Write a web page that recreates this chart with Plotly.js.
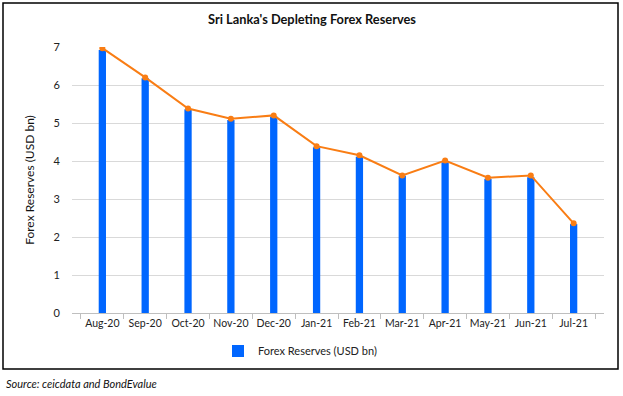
<!DOCTYPE html>
<html>
<head>
<meta charset="utf-8">
<script src="https://cdn.plot.ly/plotly-3.0.1.min.js"></script>
<style>html,body{margin:0;padding:0;background:#fff;}#chart{width:623px;height:396px;}</style>
</head>
<body>
<div id="chart"></div>
<script>
const months = ["Aug-20","Sep-20","Oct-20","Nov-20","Dec-20","Jan-21","Feb-21","Mar-21","Apr-21","May-21","Jun-21","Jul-21"];
const reserves = [6.92, 6.18, 5.36, 5.08, 5.17, 4.36, 4.11, 3.61, 3.97, 3.53, 3.57, 2.34];
const trendLine = [6.97, 6.20, 5.38, 5.11, 5.20, 4.39, 4.15, 3.62, 4.01, 3.56, 3.62, 2.36];
const yTicks = [0,1,2,3,4,5,6,7];

const font = "Lato, 'Open Sans', sans-serif";
const PW = 532, PH = 266, L = 72, T = 47;
const px = v => (v - L) / PW;
const py = v => (T + PH - v) / PH;

const traces = [
  {
    type: "bar", x: months, y: reserves, name: "Forex Reserves (USD bn)",
    marker: {color: "#0066FF"}, width: 0.17, hoverinfo: "x+y"
  },
  {
    type: "scatter", mode: "lines+markers", x: months, y: trendLine, showlegend: false,
    line: {color: "#F97D14", width: 2}, marker: {color: "#F97D14", size: 6}
  }
];

const layout = {
  width: 623, height: 396,
  margin: {l: L, r: 623 - L - PW, t: T, b: 396 - T - PH},
  paper_bgcolor: "#fff", plot_bgcolor: "#fff",
  font: {family: font, size: 11, color: "#222"},
  title: {text: "<b>Sri Lanka's Depleting Forex Reserves</b>", font: {family: font, size: 12.8, color: "#111"},
          x: 312/623, xref: "container", xanchor: "center", y: 1 - 20/396, yanchor: "middle"},
  xaxis: {
    type: "category", showgrid: false, showline: true, linecolor: "#bfbfbf", linewidth: 1, automargin: false,
    ticks: "outside", tickson: "boundaries", ticklen: 5, tickcolor: "#bfbfbf", tickangle: 0,
    tickfont: {family: font, size: 10.5, color: "#222"}, fixedrange: true
  },
  yaxis: {
    range: [0, 7], tickvals: yTicks, showgrid: true, gridcolor: "#d9d9d9", gridwidth: 1, automargin: false,
    zeroline: false, showline: false, ticks: "outside", ticklen: 9, tickcolor: "rgba(0,0,0,0)",
    tickfont: {family: font, size: 11, color: "#222"},
    title: {text: "Forex Reserves (USD bn)", font: {family: font, size: 12, color: "#111"}, standoff: 16},
    fixedrange: true
  },
  showlegend: true,
  legend: {orientation: "h", x: px(300), xanchor: "center", y: py(351), yanchor: "middle",
           font: {family: font, size: 11, color: "#222"}, itemwidth: 30, traceorder: "normal"},
  shapes: [
    {type: "rect", xref: "paper", yref: "paper",
     x0: px(3), x1: px(618), y0: py(369), y1: py(3),
     line: {color: "#000", width: 1.5}, fillcolor: "rgba(0,0,0,0)", layer: "above"}
  ],
  annotations: [
    {text: "<i>Source: ceicdata and BondEvalue</i>", xref: "paper", yref: "paper",
     x: px(4), xanchor: "left", y: py(383), yanchor: "middle", showarrow: false,
     font: {family: font, size: 11, color: "#111"}}
  ]
};

Plotly.newPlot("chart", traces, layout, {displayModeBar: false, staticPlot: true});
</script>
</body>
</html>
